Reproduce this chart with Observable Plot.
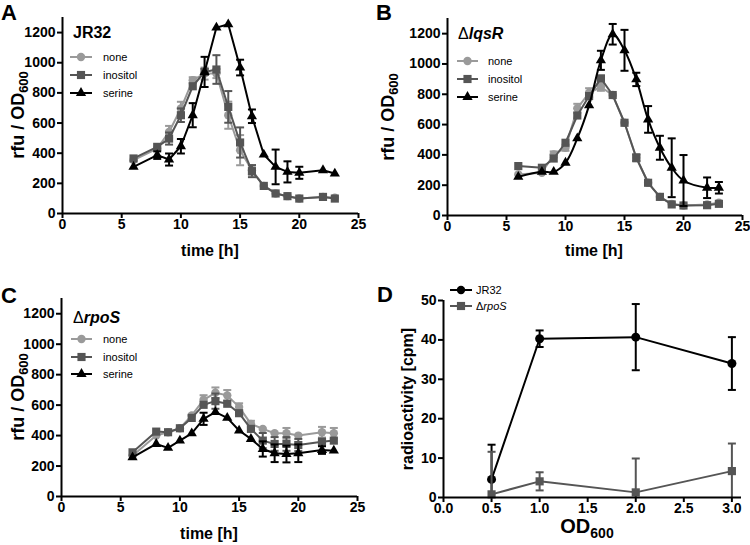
<!DOCTYPE html>
<html>
<head>
<meta charset="utf-8">
<script src="https://cdn.jsdelivr.net/npm/d3@7"></script>
<script src="https://cdn.jsdelivr.net/npm/@observablehq/plot@0.6"></script>
<style>
  html, body { margin: 0; padding: 0; background: #fff; }
  #root { position: relative; width: 750px; height: 545px; overflow: hidden; font-family: "Liberation Sans", Arial, sans-serif; }
  .panel { position: absolute; }
  #overlay { position: absolute; left: 0; top: 0; pointer-events: none; }
</style>
</head>
<body>
<div id="root"></div>
<script>
// ---------- data ----------
const times = [6, 8, 9, 10, 11, 12, 13, 14, 15, 16, 17, 18, 19, 20, 22, 23];
const timeTicks = [0, 5, 10, 15, 20, 25];
const rfuTicks = [0, 200, 400, 600, 800, 1000, 1200];

// Panel A: JR32
const A_none        = [354, 431, 541, 696, 884, 928, 928, 652, 420, 287, 183, 133, 115, 99, 110, 104];
const A_none_err    = [0, 0, 40, 45, 20, 40, 30, 90, 100, 30, 0, 0, 0, 0, 0, 0];
const A_inositol    = [365, 442, 497, 652, 844, 939, 955, 707, 471, 281, 183, 133, 115, 99, 110, 99];
const A_inositol_err= [0, 0, 40, 45, 0, 20, 95, 105, 100, 40, 0, 0, 0, 0, 0, 0];
const A_serine      = [309, 387, 358, 446, 652, 939, 1233, 1255, 968, 645, 391, 309, 276, 270, 287, 265];
const A_serine_err  = [0, 25, 40, 48, 80, 100, 0, 0, 52, 45, 0, 115, 70, 40, 0, 0];

// Panel B: ΔlqsR
const B_none        = [271, 282, 403, 447, 707, 810, 848, 795, 612, 381, 216, 123, 77, 66, 73, 84];
const B_none_err    = [0, 0, 20, 20, 30, 30, 25, 0, 0, 25, 0, 0, 0, 0, 0, 0];
const B_inositol    = [326, 315, 376, 480, 660, 788, 905, 795, 612, 381, 216, 123, 73, 66, 68, 77];
const B_inositol_err= [0, 0, 0, 0, 0, 0, 0, 0, 0, 20, 0, 0, 0, 0, 0, 0];
const B_serine      = [255, 288, 288, 348, 509, 727, 1024, 1196, 1090, 898, 634, 447, 315, 231, 183, 183];
const B_serine_err  = [0, 0, 0, 0, 0, 0, 63, 68, 135, 44, 88, 79, 194, 168, 68, 38];

// Panel C: ΔrpoS
const C_none        = [268, 400, 422, 448, 532, 635, 681, 664, 587, 477, 444, 415, 415, 400, 422, 415];
const C_none_err    = [0, 0, 0, 0, 0, 30, 35, 35, 25, 20, 0, 0, 35, 0, 35, 35];
const C_inositol    = [290, 426, 422, 448, 516, 602, 626, 609, 547, 444, 367, 345, 345, 338, 360, 367];
const C_inositol_err= [0, 0, 0, 0, 0, 0, 50, 0, 0, 0, 50, 45, 45, 40, 0, 0];
const C_serine      = [257, 345, 319, 367, 415, 510, 554, 516, 433, 378, 312, 284, 279, 284, 305, 301];
const C_serine_err  = [0, 0, 0, 0, 0, 40, 0, 0, 0, 0, 50, 58, 55, 58, 25, 0];

// Panel D: radioactivity vs OD600
const odValues   = [0.5, 1.0, 2.0, 3.0];
const odTicks    = [0, 0.5, 1.0, 1.5, 2.0, 2.5, 3.0];
const cpmTicks   = [0, 10, 20, 30, 40, 50];
const D_jr32     = [4.6, 40.3, 40.7, 34.0];
const D_jr32_err = [8.8, 2.1, 8.4, 6.7];
const D_rpos     = [0.8, 4.1, 1.3, 6.7];
const D_rpos_err = [10.8, 2.3, 8.6, 7.0];

// ---------- styles ----------
const C_LIGHT = "#9a9a9a", C_DARK = "#555555", C_BLACK = "#000000";
const FONT = "'Liberation Sans', Arial, Helvetica, sans-serif";
const capSymbol = { draw(ctx, size) { const w = Math.sqrt(size / Math.PI); ctx.moveTo(-w, 0); ctx.lineTo(w, 0); } };

function rows(xs, vs, es) { return xs.map((x, i) => ({ x, v: vs[i], e: es[i] })); }

function seriesMarks(data, color, symbol, r, curve, clip) {
  const withErr = data.filter(d => d.e > 0);
  return [
    Plot.ruleX(withErr, { x: "x", y1: d => d.v - d.e, y2: d => d.v + d.e, stroke: color, strokeWidth: 2, clip }),
    Plot.dot(withErr, { x: "x", y: d => d.v + d.e, symbol: capSymbol, r: 4, stroke: color, strokeWidth: 2, clip }),
    Plot.dot(withErr, { x: "x", y: d => d.v - d.e, symbol: capSymbol, r: 4, stroke: color, strokeWidth: 2, clip }),
    Plot.line(data, { x: "x", y: "v", stroke: color, strokeWidth: 2, curve: curve || "linear" }),
    Plot.dot(data, { x: "x", y: "v", symbol, r, fill: color, stroke: "none" })
  ];
}

function panel(cfg) {
  const chart = Plot.plot({
    width: cfg.width, height: cfg.height,
    marginLeft: cfg.ml, marginRight: cfg.mr, marginTop: cfg.mt, marginBottom: cfg.mb,
    style: { fontFamily: FONT, fontSize: "14px", fontWeight: "bold", color: "#000", background: "transparent" },
    x: { domain: cfg.xDomain, label: null },
    y: { domain: cfg.yDomain, label: null },
    marks: [
      Plot.axisX({ ticks: cfg.xTicks, tickSize: 5, tickPadding: 1, strokeWidth: 2, fontSize: 14, fontWeight: "bold", color: "#000", label: null, tickFormat: cfg.xFormat }),
      Plot.axisY({ ticks: cfg.yTicks, tickSize: 5, tickPadding: 2, strokeWidth: 2, fontSize: 14, fontWeight: "bold", color: "#000", label: null, tickFormat: d3.format("d") }),
      ...cfg.series.flatMap(s => seriesMarks(s.data, s.color, s.symbol, s.r, s.curve, cfg.clip)),
      Plot.ruleY([cfg.yDomain[0]], { stroke: "#000", strokeWidth: 2 }),
      Plot.ruleX([cfg.xDomain[0]], { stroke: "#000", strokeWidth: 2 })
    ]
  });
  const div = document.createElement("div");
  div.className = "panel";
  div.style.left = cfg.left + "px";
  div.style.top = cfg.top + "px";
  div.appendChild(chart);
  document.getElementById("root").appendChild(div);
}

function timeSeries(none, noneErr, ino, inoErr, ser, serErr, serCurve) {
  return [
    { data: rows(times, none, noneErr), color: C_LIGHT, symbol: "circle", r: 4.2 },
    { data: rows(times, ino, inoErr), color: C_DARK, symbol: "square", r: 4.6 },
    { data: rows(times, ser, serErr), color: C_BLACK, symbol: "triangle", r: 3.8, curve: serCurve }
  ];
}

panel({ left: 0, top: 0, width: 375, height: 270, ml: 62, mr: 17, mt: 17, mb: 57,
  xDomain: [0, 25], yDomain: [0, 1300], xTicks: timeTicks, yTicks: rfuTicks,
  series: timeSeries(A_none, A_none_err, A_inositol, A_inositol_err, A_serine, A_serine_err) });

panel({ left: 375, top: 0, width: 375, height: 270, ml: 72, mr: 8, mt: 18, mb: 55,
  xDomain: [0, 25], yDomain: [0, 1300], xTicks: timeTicks, yTicks: rfuTicks,
  series: timeSeries(B_none, B_none_err, B_inositol, B_inositol_err, B_serine, B_serine_err, "catmull-rom") });

panel({ left: 0, top: 270, width: 375, height: 275, ml: 61, mr: 18, mt: 28, mb: 49,
  xDomain: [0, 25], yDomain: [0, 1300], xTicks: timeTicks, yTicks: rfuTicks,
  series: timeSeries(C_none, C_none_err, C_inositol, C_inositol_err, C_serine, C_serine_err) });

panel({ left: 375, top: 270, width: 375, height: 275, ml: 68, mr: 9, mt: 30, mb: 48,
  xDomain: [0, 3.1], yDomain: [0, 50], xTicks: odTicks, yTicks: cpmTicks, xFormat: d3.format(".1f"), clip: true,
  series: [
    { data: rows(odValues, D_jr32, D_jr32_err), color: C_BLACK, symbol: "circle", r: 4.5 },
    { data: rows(odValues, D_rpos, D_rpos_err), color: C_DARK, symbol: "square", r: 4.6 }
  ] });

// ---------- overlay: panel letters, axis titles, legends ----------
const svg = d3.select("#root").append("svg").attr("id", "overlay")
  .attr("width", 750).attr("height", 545)
  .style("font-family", FONT);

function letter(t, x, y) {
  svg.append("text").attr("x", x).attr("y", y).attr("font-size", 22).attr("font-weight", "bold").text(t);
}
letter("A", 1, 20); letter("B", 376, 20); letter("C", 1, 303); letter("D", 377, 302);

function xTitle(x, y, parts, size) {
  const t = svg.append("text").attr("x", x).attr("y", y).attr("text-anchor", "middle")
    .attr("font-size", size).attr("font-weight", "bold");
  parts.forEach(p => {
    const ts = t.append("tspan").text(p.text);
    if (p.sub) ts.attr("font-size", p.sub).attr("dy", p.dy);
  });
}
function yTitle(x, y, parts, size) {
  const t = svg.append("text").attr("transform", `translate(${x},${y}) rotate(-90)`)
    .attr("text-anchor", "middle").attr("font-size", size).attr("font-weight", "bold");
  parts.forEach(p => {
    const ts = t.append("tspan").text(p.text);
    if (p.sub) ts.attr("font-size", p.sub).attr("dy", p.dy);
  });
}
const rfuTitle = [{ text: "rfu / OD" }, { text: "600", sub: 13, dy: 4 }];
xTitle(210, 256, [{ text: "time [h]" }], 16);
xTitle(594, 256, [{ text: "time [h]" }], 16);
xTitle(209, 539, [{ text: "time [h]" }], 16);
xTitle(587, 533, [{ text: "OD" }, { text: "600", sub: 14, dy: 5 }], 20);
yTitle(24, 115, rfuTitle, 18);
yTitle(394, 117, rfuTitle, 18);
yTitle(24, 397, rfuTitle, 18);
yTitle(413, 399, [{ text: "radioactivity [cpm]" }], 16);

const symArea = { circle: Math.PI * 4.2 * 4.2, square: Math.PI * 4.6 * 4.6, triangle: Math.PI * 3.8 * 3.8 };
const symType = { circle: d3.symbolCircle, square: d3.symbolSquare, triangle: d3.symbolTriangle };
function legendItem(x1, x2, y, color, sym, label, tx, italicPart, prefix) {
  svg.append("line").attr("x1", x1).attr("x2", x2).attr("y1", y).attr("y2", y)
    .attr("stroke", color).attr("stroke-width", 2);
  svg.append("path").attr("d", d3.symbol(symType[sym], symArea[sym])())
    .attr("transform", `translate(${(x1 + x2) / 2},${y})`).attr("fill", color);
  const t = svg.append("text").attr("x", tx).attr("y", y + 4).attr("font-size", 11).attr("fill", "#000");
  if (prefix) t.append("tspan").text(prefix);
  t.append("tspan").text(label).attr("font-style", italicPart ? "italic" : null);
}
function legendTitle(x, y, prefix, name, italic) {
  const t = svg.append("text").attr("x", x).attr("y", y).attr("font-size", 16).attr("font-weight", "bold");
  if (prefix) t.append("tspan").text(prefix).attr("font-weight", "normal");
  t.append("tspan").text(name).attr("font-style", italic ? "italic" : null);
}
const conds = [["none", C_LIGHT, "circle"], ["inositol", C_DARK, "square"], ["serine", C_BLACK, "triangle"]];
legendTitle(73, 38, null, "JR32", false);
[57, 75, 93].forEach((y, i) => legendItem(70, 92, y, conds[i][1], conds[i][2], conds[i][0], 103));
legendTitle(458, 39, "\u0394", "lqsR", true);
[61, 79, 97].forEach((y, i) => legendItem(457, 478, y, conds[i][1], conds[i][2], conds[i][0], 488));
legendTitle(73, 323, "\u0394", "rpoS", true);
[339, 357, 374].forEach((y, i) => legendItem(71, 92, y, conds[i][1], conds[i][2], conds[i][0], 103));
legendItem(450, 472, 290, C_BLACK, "circle", "JR32", 476);
legendItem(450, 472, 306, C_DARK, "square", "rpoS", 476, true, "\u0394");
</script>
</body>
</html>
